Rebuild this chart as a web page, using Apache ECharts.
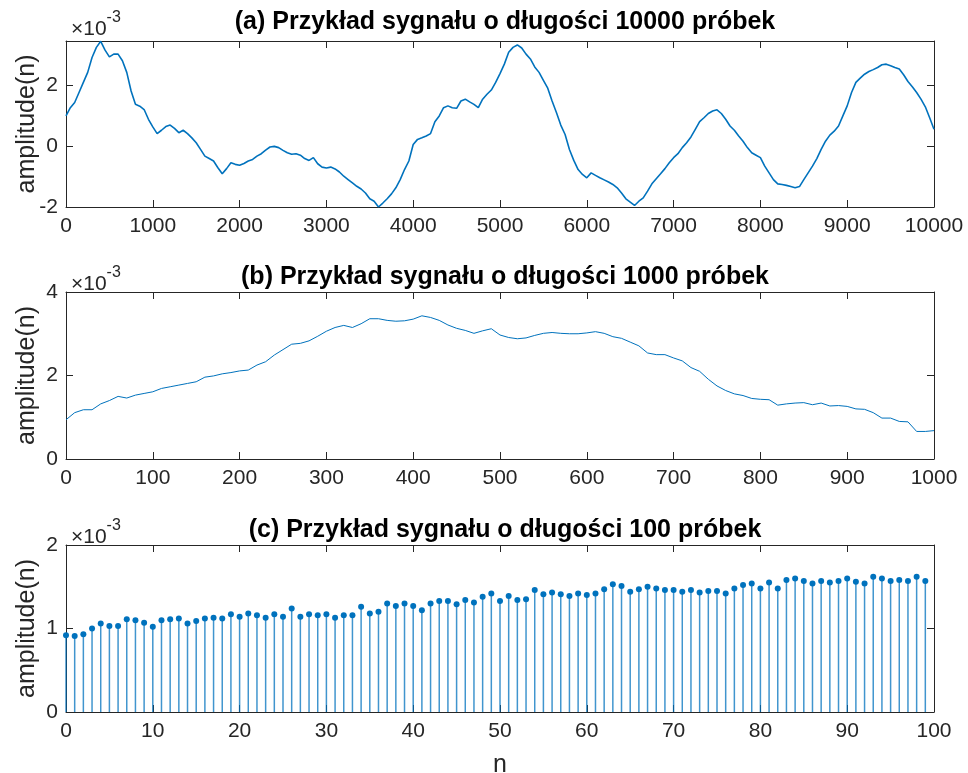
<!DOCTYPE html>
<html lang="pl">
<head>
<meta charset="UTF-8">
<title>Przykład sygnału</title>
<script src="https://cdn.jsdelivr.net/npm/echarts@6/dist/echarts.min.js"></script>
<style>
  html, body { margin: 0; padding: 0; background: #fff; }
  #main { width: 968px; height: 773px; }
</style>
</head>
<body>
<div id="main"></div>
<script>
// values in units of 1e-3 (axis shows x10^-3)
var aStep = 50; // panel (a): one reading every 50 samples, 0..10000
var aVals = [
  0.99, 1.26, 1.43, 1.76, 2.09, 2.42, 2.91, 3.24, 3.44, 3.15,
  2.93, 3.02, 3.02, 2.80, 2.42, 1.81, 1.37, 1.31, 1.20, 0.88,
  0.63, 0.41, 0.52, 0.64, 0.69, 0.58, 0.44, 0.52, 0.41, 0.27,
  0.11, -0.11, -0.33, -0.41, -0.49, -0.71, -0.91, -0.74, -0.55, -0.60,
  -0.63, -0.57, -0.49, -0.44, -0.33, -0.25, -0.13, -0.03, -0.01, -0.05,
  -0.14, -0.22, -0.27, -0.25, -0.30, -0.41, -0.47, -0.38, -0.58, -0.69,
  -0.72, -0.69, -0.75, -0.85, -0.99, -1.10, -1.21, -1.32, -1.41, -1.54,
  -1.73, -1.81, -2.00, -1.87, -1.73, -1.57, -1.37, -1.10, -0.77, -0.49,
  0.05, 0.22, 0.27, 0.33, 0.41, 0.80, 0.99, 1.26, 1.32, 1.26,
  1.24, 1.48, 1.54, 1.45, 1.37, 1.26, 1.54, 1.70, 1.84, 2.09,
  2.38, 2.69, 3.08, 3.24, 3.32, 3.22, 3.02, 2.86, 2.60, 2.42,
  2.16, 1.90, 1.48, 1.10, 0.69, 0.38, -0.11, -0.47, -0.77, -0.93,
  -1.04, -0.88, -0.96, -1.04, -1.11, -1.18, -1.26, -1.37, -1.54, -1.73,
  -1.84, -1.95, -1.81, -1.70, -1.48, -1.24, -1.07, -0.91, -0.74, -0.55,
  -0.38, -0.25, -0.05, 0.11, 0.30, 0.55, 0.80, 0.93, 1.07, 1.15,
  1.19, 1.07, 0.88, 0.66, 0.52, 0.33, 0.16, -0.05, -0.22, -0.30,
  -0.38, -0.66, -0.88, -1.10, -1.24, -1.26, -1.29, -1.33, -1.37, -1.33,
  -1.10, -0.88, -0.66, -0.41, -0.11, 0.16, 0.36, 0.49, 0.66, 0.99,
  1.32, 1.76, 2.09, 2.23, 2.36, 2.45, 2.51, 2.58, 2.67, 2.69,
  2.64, 2.58, 2.53, 2.34, 2.12, 1.95, 1.76, 1.54, 1.29, 0.93,
  0.55
];

var bStep = 10; // panel (b): one reading every 10 samples, 0..1000
var bVals = [
  0.94, 1.11, 1.18, 1.18, 1.32, 1.40, 1.50, 1.46, 1.53, 1.57,
  1.61, 1.69, 1.73, 1.77, 1.81, 1.85, 1.96, 1.99, 2.04, 2.07,
  2.11, 2.13, 2.25, 2.33, 2.49, 2.62, 2.75, 2.77, 2.83, 2.94,
  3.06, 3.15, 3.20, 3.15, 3.24, 3.36, 3.36, 3.32, 3.30, 3.31,
  3.35, 3.43, 3.39, 3.32, 3.21, 3.13, 3.08, 3.01, 3.07, 3.12,
  2.97, 2.91, 2.88, 2.90, 2.96, 3.01, 3.03, 3.01, 3.00, 3.00,
  3.02, 3.05, 3.01, 2.93, 2.89, 2.80, 2.71, 2.54, 2.50, 2.50,
  2.42, 2.35, 2.19, 2.10, 1.91, 1.75, 1.64, 1.56, 1.52, 1.45,
  1.43, 1.42, 1.29, 1.32, 1.34, 1.35, 1.30, 1.34, 1.27, 1.28,
  1.26, 1.20, 1.19, 1.11, 0.98, 0.98, 0.90, 0.89, 0.66, 0.66,
  0.68
];

// panel (c): all 100 samples, n = 0..99
var cVals = [
  0.92, 0.91, 0.93, 1.00, 1.06, 1.03, 1.03, 1.11, 1.10, 1.07,
  1.02, 1.10, 1.11, 1.12, 1.06, 1.09, 1.12, 1.13, 1.12, 1.17,
  1.14, 1.18, 1.16, 1.13, 1.17, 1.14, 1.24, 1.14, 1.17, 1.16,
  1.17, 1.13, 1.16, 1.16, 1.26, 1.18, 1.20, 1.30, 1.27, 1.30,
  1.27, 1.22, 1.30, 1.33, 1.33, 1.29, 1.34, 1.31, 1.38, 1.42,
  1.33, 1.39, 1.34, 1.35, 1.46, 1.41, 1.43, 1.41, 1.39, 1.42,
  1.40, 1.42, 1.47, 1.53, 1.51, 1.44, 1.47, 1.50, 1.48, 1.46,
  1.46, 1.44, 1.46, 1.43, 1.45, 1.45, 1.42, 1.48, 1.52, 1.54,
  1.48, 1.55, 1.48, 1.58, 1.60, 1.57, 1.54, 1.57, 1.55, 1.57,
  1.60, 1.56, 1.54, 1.62, 1.60, 1.57, 1.58, 1.57, 1.62, 1.57
];

var titles = [
  '(a) Przykład sygnału o długości 10000 próbek',
  '(b) Przykład sygnału o długości 1000 próbek',
  '(c) Przykład sygnału o długości 100 próbek'
];

var FONT = 'Liberation Sans, Arial, Helvetica, sans-serif';
var AX = '#262626';
var BLUE = '#0072BD';

var grids = [
  { left: 66, top: 41, width: 868, height: 166, outerBoundsMode: 'none' },
  { left: 66, top: 292, width: 868, height: 167, outerBoundsMode: 'none' },
  { left: 66, top: 545, width: 868, height: 167, outerBoundsMode: 'none' }
];

function toPairs(vals, step) {
  var out = [];
  for (var i = 0; i < vals.length; i++) out.push([i * step, vals[i]]);
  return out;
}

function plain(v) { return String(v); }

function xAx(g, max, interval, mirror, name) {
  return {
    type: 'value', gridIndex: g, min: 0, max: max, interval: interval,
    position: mirror ? 'top' : 'bottom',
    name: mirror ? '' : (name || ''),
    nameLocation: 'middle', nameGap: 41, nameMoveOverlap: false,
    nameTextStyle: { color: AX, fontSize: 25, fontFamily: FONT },
    axisLine: { show: true, onZero: false, lineStyle: { color: AX, width: 1 } },
    axisTick: { show: true, inside: true, length: 7, lineStyle: { color: AX } },
    axisLabel: { show: !mirror, color: AX, fontSize: 21, fontFamily: FONT, margin: 9, formatter: plain },
    splitLine: { show: false }
  };
}

function yAx(g, min, max, interval, mirror) {
  return {
    type: 'value', gridIndex: g, min: min, max: max, interval: interval,
    position: mirror ? 'right' : 'left',
    name: mirror ? '' : 'amplitude(n)',
    nameLocation: 'middle', nameGap: 26, nameRotate: 90, nameMoveOverlap: false,
    nameTextStyle: { color: AX, fontSize: 25, fontFamily: FONT },
    axisLine: { show: true, onZero: false, lineStyle: { color: AX, width: 1 } },
    axisTick: { show: true, inside: true, length: 7, lineStyle: { color: AX } },
    axisLabel: { show: !mirror, color: AX, fontSize: 21, fontFamily: FONT, margin: 8,
                 showMaxLabel: Math.round(max) === max, formatter: plain },
    splitLine: { show: false }
  };
}

var titleList = [];
var tops = [5, 260, 513];
for (var i = 0; i < 3; i++) {
  titleList.push({
    text: titles[i], left: 500, top: tops[i], textAlign: 'center',
    textStyle: { color: '#000', fontSize: 25, fontWeight: 'bold', fontFamily: FONT }
  });
  titleList.push({
    text: '{x|×10}{e|-3}', left: 66, top: tops[i],
    textStyle: {
      fontWeight: 'normal',
      rich: {
        x: { color: AX, fontSize: 21, fontWeight: 'normal', fontFamily: FONT, verticalAlign: 'bottom', padding: [9, 0, 0, 0] },
        e: { color: AX, fontSize: 16, fontWeight: 'normal', fontFamily: FONT, verticalAlign: 'top' }
      }
    }
  });
}

var chart = echarts.init(document.getElementById('main'));
chart.setOption({
  animation: false,
  backgroundColor: '#fff',
  title: titleList,
  grid: grids,
  xAxis: [
    xAx(0, 10000, 1000, false), xAx(0, 10000, 1000, true),
    xAx(1, 1000, 100, false), xAx(1, 1000, 100, true),
    xAx(2, 100, 10, false, 'n'), xAx(2, 100, 10, true)
  ],
  yAxis: [
    yAx(0, -2, 3.45, 2, false), yAx(0, -2, 3.45, 2, true),
    yAx(1, 0, 4, 2, false), yAx(1, 0, 4, 2, true),
    yAx(2, 0, 2, 1, false), yAx(2, 0, 2, 1, true)
  ],
  series: [
    {
      type: 'line', xAxisIndex: 0, yAxisIndex: 0, data: toPairs(aVals, aStep),
      showSymbol: false, lineStyle: { color: BLUE, width: 1.6 }
    },
    {
      type: 'line', xAxisIndex: 2, yAxisIndex: 2, data: toPairs(bVals, bStep),
      showSymbol: false, lineStyle: { color: BLUE, width: 1 }
    },
    {
      type: 'bar', xAxisIndex: 4, yAxisIndex: 4, data: toPairs(cVals, 1),
      barWidth: 1.5, itemStyle: { color: BLUE, opacity: 0.75 }
    },
    {
      type: 'scatter', xAxisIndex: 4, yAxisIndex: 4, data: toPairs(cVals, 1),
      symbol: 'circle', symbolSize: 6, itemStyle: { color: BLUE, opacity: 1 }
    }
  ]
});
</script>
</body>
</html>
